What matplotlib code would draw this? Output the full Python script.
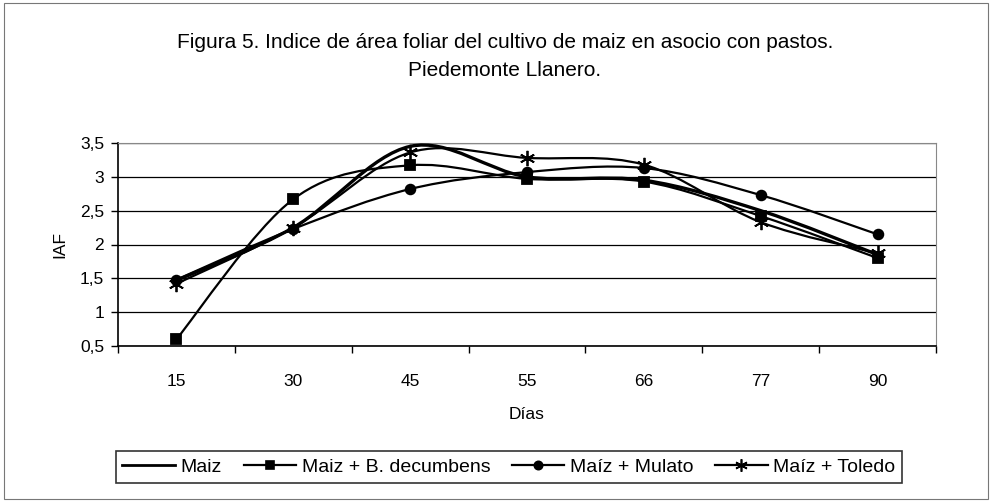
import numpy as np
import matplotlib
matplotlib.use("Agg")
import matplotlib.pyplot as plt
from matplotlib.path import Path
from matplotlib.patches import PathPatch, Rectangle
from matplotlib.lines import Line2D

plt.rcParams['font.family'] = ['Liberation Sans', 'DejaVu Sans']

days = ["15", "30", "45", "55", "66", "77", "90"]
maiz = [1.47, 2.25, 3.45, 3.00, 2.95, 2.50, 1.85]
decumbens = [0.60, 2.67, 3.17, 2.97, 2.93, 2.42, 1.80]
mulato = [1.48, 2.23, 2.82, 3.07, 3.13, 2.73, 2.15]
toledo = [1.42, 2.25, 3.36, 3.28, 3.18, 2.33, 1.87]
yticks = [0.5, 1, 1.5, 2, 2.5, 3, 3.5]
ytick_labels = ["0,5", "1", "1,5", "2", "2,5", "3", "3,5"]

fig = plt.figure(figsize=(9.9, 5.01), dpi=100)
ax = fig.add_axes([118/990, 1-346/501, (936-118)/990, (346-143)/501])

def smooth_path(xs, ys):
    pts = np.column_stack([xs, ys]).astype(float)
    n = len(pts)
    verts = [pts[0]]
    codes = [Path.MOVETO]
    for i in range(n - 1):
        p0 = pts[max(i - 1, 0)]
        p1 = pts[i]
        p2 = pts[i + 1]
        p3 = pts[min(i + 2, n - 1)]
        c1 = p1 + (p2 - p0) / 6.0
        c2 = p2 - (p3 - p1) / 6.0
        verts += [c1, c2, p2]
        codes += [Path.CURVE4] * 3
    return Path(verts, codes)

x = np.arange(len(days))
series = [
    ("Maiz", maiz, None, 2.4, 0),
    ("Maiz + B. decumbens", decumbens, 's', 1.6, 7),
    ("Maíz + Mulato", mulato, 'o', 1.6, 7),
    ("Maíz + Toledo", toledo, (6, 2, 0), 1.6, 11),
]
handles = []
for name, vals, mk, lw, ms in series:
    patch = PathPatch(smooth_path(x, vals), facecolor='none', edgecolor='black',
                      lw=lw, transform=ax.transData, zorder=3)
    ax.add_patch(patch)
    if mk is not None:
        ax.plot(x, vals, linestyle='none', marker=mk, color='black', markersize=ms,
                markeredgewidth=1.3, zorder=4)
    handles.append(Line2D([], [], color='black', lw=2.0 if mk is None else 1.6,
                          marker=mk, markersize=(6 if mk != (6, 2, 0) else 9) if mk is not None else 0,
                          markeredgewidth=1.2, label=name))

ax.set_xlim(-0.5, len(days) - 0.5)
ax.set_ylim(0.5, 3.5)
ax.set_yticks(yticks)
ax.set_yticklabels(ytick_labels, fontsize=12.5)
ax.set_xticks(x)
ax.set_xticklabels(days, fontsize=12.5)
ax.set_xticks(np.arange(-0.5, len(days)), minor=True)
ax.tick_params(axis='x', which='major', length=0, pad=20)
ax.tick_params(axis='x', which='minor', length=5, width=1, direction='out')
ax.tick_params(axis='y', length=5, width=1, direction='out', pad=5)
ax.yaxis.grid(True, color='black', lw=0.9)
ax.set_axisbelow(True)
for s in ['top', 'right']:
    ax.spines[s].set_color('#888888')
    ax.spines[s].set_linewidth(0.8)
for s in ['left', 'bottom']:
    ax.spines[s].set_color('black')
    ax.spines[s].set_linewidth(1.2)

ax.set_xlabel("Días", fontsize=12.5, labelpad=13)
ax.set_ylabel("IAF", fontsize=12.5, labelpad=9)

fig.text(0.51, 1-43/501, "Figura 5. Indice de área foliar del cultivo de maiz en asocio con pastos.",
         ha='center', va='center', fontsize=15)
fig.text(0.51, 1-71/501, "Piedemonte Llanero.", ha='center', va='center', fontsize=15)

leg = fig.legend(handles=handles, loc='center', bbox_to_anchor=(509/990, 1-467/501),
                 ncol=4, fontsize=14, frameon=True, fancybox=False, edgecolor='black',
                 handlelength=2.7, handletextpad=0.3, columnspacing=1.1, borderpad=0.35,
                 borderaxespad=0)
leg.get_frame().set_linewidth(1.2)

fig.add_artist(Rectangle((0.004, 0.004), 0.994, 0.99, transform=fig.transFigure,
                         fill=False, edgecolor='#777777', lw=0.8))

fig.savefig("out.png", dpi=100, facecolor='white')
